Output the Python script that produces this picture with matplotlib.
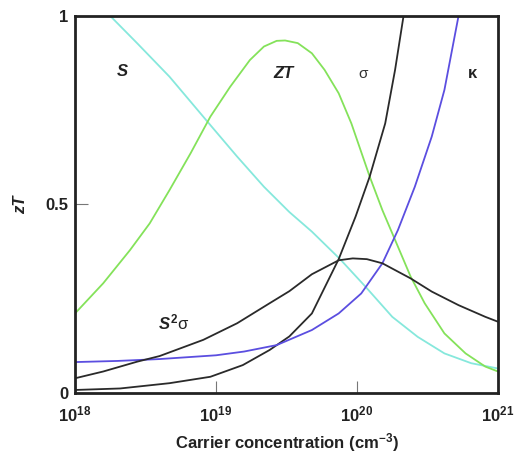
import matplotlib.pyplot as plt
import numpy as np

plt.rcParams['font.family'] = ['Liberation Sans', 'DejaVu Sans']
plt.rcParams['mathtext.fontset'] = 'custom'
plt.rcParams['mathtext.rm'] = 'Liberation Sans:bold'
plt.rcParams['mathtext.bf'] = 'Liberation Sans:bold'
plt.rcParams['mathtext.it'] = 'Liberation Sans:italic:bold'

# log10 of carrier concentration and the curve values (arbitrary units, zT scale)
s_logn = [18.25, 18.44, 18.67, 18.95, 19.15, 19.34, 19.52, 19.68, 19.88,
          20.06, 20.25, 20.43, 20.62, 20.81, 21.0]
s_val = [1.0, 0.928, 0.839, 0.715, 0.627, 0.547, 0.48, 0.428, 0.355,
         0.282, 0.202, 0.149, 0.105, 0.079, 0.065]

zt_logn = [18.0, 18.2, 18.39, 18.53, 18.67, 18.82, 18.96, 19.1, 19.24, 19.34,
           19.43, 19.49, 19.58, 19.68, 19.77, 19.87, 19.96, 20.09, 20.18,
           20.27, 20.38, 20.48, 20.62, 20.77, 20.91, 21.0]
zt_val = [0.211, 0.291, 0.379, 0.45, 0.538, 0.636, 0.733, 0.812, 0.883, 0.919,
          0.934, 0.935, 0.928, 0.901, 0.857, 0.795, 0.715, 0.574, 0.485,
          0.406, 0.309, 0.238, 0.158, 0.105, 0.07, 0.057]

sig_logn = [18.0, 18.32, 18.67, 18.96, 19.19, 19.38, 19.52, 19.68, 19.87,
            19.99, 20.09, 20.2, 20.27, 20.33]
sig_val = [0.008, 0.012, 0.026, 0.043, 0.074, 0.114, 0.15, 0.211, 0.355,
           0.468, 0.574, 0.715, 0.857, 1.0]

kap_logn = [18.0, 18.3, 18.6, 19.0, 19.2, 19.43, 19.68, 19.87, 20.03, 20.18,
            20.29, 20.41, 20.53, 20.62, 20.72]
kap_val = [0.082, 0.085, 0.09, 0.10, 0.11, 0.127, 0.167, 0.211, 0.264, 0.344,
           0.432, 0.547, 0.68, 0.804, 1.0]

pf_logn = [18.0, 18.2, 18.44, 18.6, 18.91, 19.15, 19.38, 19.52, 19.68, 19.87,
           19.97, 20.07, 20.18, 20.27, 20.38, 20.53, 20.72, 20.91, 21.0]
pf_val = [0.039, 0.057, 0.083, 0.098, 0.141, 0.185, 0.238, 0.27, 0.315, 0.352,
          0.357, 0.355, 0.344, 0.326, 0.304, 0.269, 0.233, 0.202, 0.189]

xticks = [1e18, 1e19, 1e20, 1e21]
xticklabels = [r'$\mathbf{10^{18}}$', r'$\mathbf{10^{19}}$',
               r'$\mathbf{10^{20}}$', r'$\mathbf{10^{21}}$']
yticks = [0, 0.5, 1]
yticklabels = ['0', '0.5', '1']

fig = plt.figure(figsize=(5.18, 4.63), dpi=100)
ax = fig.add_axes([0.1448, 0.1512, 0.8166, 0.8143])

lw = 1.3
ax.plot(10 ** np.array(s_logn), s_val, color='#86e8dc', lw=lw)
ax.plot(10 ** np.array(zt_logn), zt_val, color='#84e25a', lw=lw)
ax.plot(10 ** np.array(sig_logn), sig_val, color='#2a2a2a', lw=lw)
ax.plot(10 ** np.array(kap_logn), kap_val, color='#5b4ee0', lw=lw)
ax.plot(10 ** np.array(pf_logn), pf_val, color='#2a2a2a', lw=lw)

ax.set_xscale('log')
ax.set_xlim(1e18, 1e21)
ax.set_ylim(0, 1)
ax.minorticks_off()
ax.set_xticks(xticks)
ax.set_xticklabels(xticklabels)
ax.set_yticks(yticks)
ax.set_yticklabels(yticklabels, fontweight='bold')
ax.tick_params(direction='in', length=9, width=0.8, color='#777777',
               labelsize=12, labelcolor='#222222')
ax.tick_params(axis='x', pad=8)
ax.tick_params(axis='y', pad=5)

for sp in ax.spines.values():
    sp.set_linewidth(2)
    sp.set_color('#222222')

txt = dict(fontsize=12, color='#222222', ha='center', va='center',
           transform=ax.transAxes)
ax.text(0.111, 0.852, 'S', fontweight='bold', fontstyle='italic', **txt)
ax.text(0.492, 0.847, 'ZT', fontweight='bold', fontstyle='italic', **txt)
ax.text(0.681, 0.847, 'σ', fontsize=11, color='#333333', ha='center',
        va='center', transform=ax.transAxes)
ax.text(0.939, 0.847, 'κ', fontweight='bold', **txt)
ax.text(0.232, 0.186, r'$\mathit{S}^{2}$σ', **txt)

ax.set_xlabel('Carrier concentration (cm$^{-3}$)', fontsize=12,
              fontweight='bold', color='#222222', labelpad=5)
ax.set_ylabel('zT', fontsize=12, fontweight='bold', fontstyle='italic',
              color='#222222', labelpad=12)

fig.savefig('out.png', dpi=100)
